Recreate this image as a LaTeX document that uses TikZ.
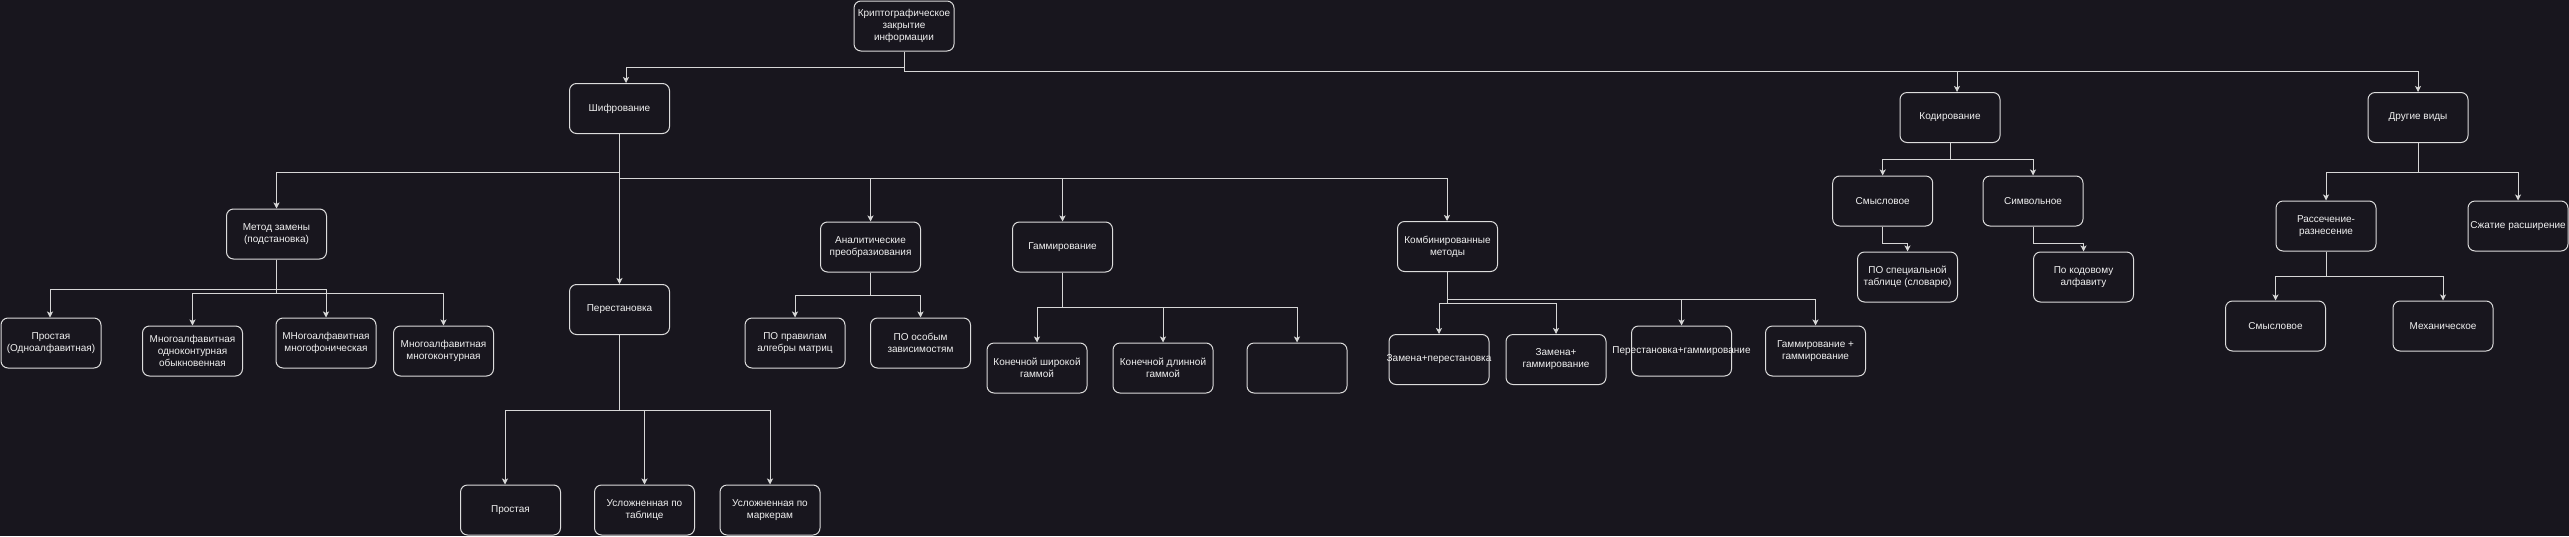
\documentclass[tikz,border=0pt]{standalone}
\usepackage{fontspec}
\setmainfont{Liberation Sans}
\usetikzlibrary{arrows.meta}
\definecolor{bgc}{RGB}{24,22,30}
\definecolor{linec}{RGB}{214,214,214}
\definecolor{boxc}{RGB}{220,220,220}
\definecolor{txtc}{RGB}{240,240,240}
\newcommand{\wide}[1]{\makebox[0pt][c]{#1}}
\tikzset{
  box/.style={draw=boxc, line width=1pt, rounded corners=7pt, fill=bgc,
    minimum width=100pt, minimum height=50pt, inner sep=1pt, align=center,
    text=txtc, font=\fontsize{10}{12}\selectfont},
  arr/.style={draw=linec, line width=0.9pt, -{Stealth[length=6pt,width=6pt,inset=1.5pt]}}
}
\begin{document}
\begin{tikzpicture}[x=1pt,y=-1pt]
\fill[bgc] (0,0) rectangle (2569,536);
\useasboundingbox (0,0) rectangle (2569,536);
% top level
\node[box] (root) at (904,26) {Криптографическое\\закрытие\\информации};
\node[box] (shif) at (619.5,108.5) {Шифрование};
\node[box] (kod) at (1950,117.5) {Кодирование};
\node[box] (drug) at (2418,117.5) {Другие виды};
% level 2 under Шифрование
\node[box] (metod) at (276.5,234) {Метод замены\\(подстановка)};
\node[box] (perest) at (619.5,309.5) {Перестановка};
\node[box] (anal) at (870.5,247) {Аналитические\\преобразиования};
\node[box] (gamm) at (1062.5,247) {Гаммирование};
\node[box] (komb) at (1447.5,246.5) {Комбинированные\\методы};
% Метод замены children
\node[box] (prost1) at (51,343) {Простая\\(Одноалфавитная)};
\node[box] (odnok) at (192.5,351) {Многоалфавитная\\одноконтурная\\обыкновенная};
\node[box] (mnogof) at (326,343) {МНогоалфавитная\\многофоническая};
\node[box] (mnogok) at (443.5,351) {Многоалфавитная\\многоконтурная};
% Перестановка children
\node[box] (prost2) at (510.5,510) {Простая};
\node[box] (uslt) at (644.5,510) {Усложненная по\\таблице};
\node[box] (uslm) at (770,510) {Усложненная по\\маркерам};
% Аналитические children
\node[box] (pr1) at (795,343) {ПО правилам\\алгебры матриц};
\node[box] (pr2) at (920.5,343) {ПО особым\\зависимостям};
% Гаммирование children
\node[box] (kon1) at (1037,368) {Конечной широкой\\гаммой};
\node[box] (kon2) at (1163,368) {Конечной длинной\\гаммой};
\node[box] (empt) at (1297,368) {};
% Комбинированные children
\node[box] (zp) at (1439,359.5) {\wide{Замена+перестановка}};
\node[box] (zg) at (1556,359.5) {Замена+\\гаммирование};
\node[box] (pg) at (1681.5,351) {\wide{Перестановка+гаммирование}};
\node[box] (gg) at (1815.5,351) {Гаммирование +\\гаммирование};
% Кодирование children
\node[box] (smysl) at (1882.7,201) {Смысловое};
\node[box] (simv) at (2033,201) {Символьное};
\node[box] (spec) at (1907.5,277) {ПО специальной\\таблице (словарю)};
\node[box] (kodalf) at (2083.5,277) {По кодовому\\алфавиту};
% Другие виды children
\node[box] (rass) at (2326,226) {Рассечение-\\разнесение};
\node[box] (szh) at (2518,226) {\wide{Сжатие расширение}};
\node[box] (sm2) at (2275.5,326) {Смысловое};
\node[box] (mech) at (2443,326) {Механическое};

% connectors
\draw[arr] (root.south) -- ++(0,16) -| ([xshift=6.5pt]shif.north);
\draw[arr] (root.south) -- ++(0,20) -| ([xshift=7pt]kod.north);
\draw[arr] (root.south) -- ++(0,20) -| (drug.north);

\draw[arr] (shif.south) -- ++(0,38.5) -| (metod.north);
\draw[arr] (shif.south) -- (perest.north);
\draw[arr] (shif.south) -- ++(0,44.5) -| (anal.north);
\draw[arr] (shif.south) -- ++(0,44.5) -| (gamm.north);
\draw[arr] (shif.south) -- ++(0,44.5) -| ([xshift=-0.5pt]komb.north);

\draw[arr] (metod.south) -- ++(0,30) -| ([xshift=-1pt]prost1.north);
\draw[arr] (metod.south) -- ++(0,30) -| (mnogof.north);
\draw[arr] (metod.south) -- ++(0,34) -| (odnok.north);
\draw[arr] (metod.south) -- ++(0,34) -| (mnogok.north);

\draw[arr] (perest.south) -- ++(0,75.5) -| ([xshift=-5.5pt]prost2.north);
\draw[arr] (perest.south) -- ++(0,75.5) -| (uslt.north);
\draw[arr] (perest.south) -- ++(0,75.5) -| (uslm.north);

\draw[arr] (anal.south) -- ++(0,23) -| (pr1.north);
\draw[arr] (anal.south) -- ++(0,23) -| (pr2.north);

\draw[arr] (gamm.south) -- ++(0,35) -| (kon1.north);
\draw[arr] (gamm.south) -- ++(0,35) -| (kon2.north);
\draw[arr] (gamm.south) -- ++(0,35) -| (empt.north);

\draw[arr] ([xshift=-0.5pt]komb.south) -- ++(0,27.5) -| (pg.north);
\draw[arr] ([xshift=-0.5pt]komb.south) -- ++(0,27.5) -| (gg.north);
\draw[arr] ([xshift=-0.5pt]komb.south) -- ++(0,31.5) -| (zp.north);
\draw[arr] ([xshift=-0.5pt]komb.south) -- ++(0,31.5) -| (zg.north);

\draw[arr] (kod.south) -- ++(0,16.5) -| (smysl.north);
\draw[arr] (kod.south) -- ++(0,16.5) -| (simv.north);
\draw[arr] (smysl.south) -- ++(0,17) -| (spec.north);
\draw[arr] (simv.south) -- ++(0,17) -| (kodalf.north);

\draw[arr] (drug.south) -- ++(0,29.5) -| (rass.north);
\draw[arr] (drug.south) -- ++(0,29.5) -| (szh.north);
\draw[arr] (rass.south) -- ++(0,25) -| (sm2.north);
\draw[arr] (rass.south) -- ++(0,25) -| (mech.north);
\end{tikzpicture}
\end{document}
